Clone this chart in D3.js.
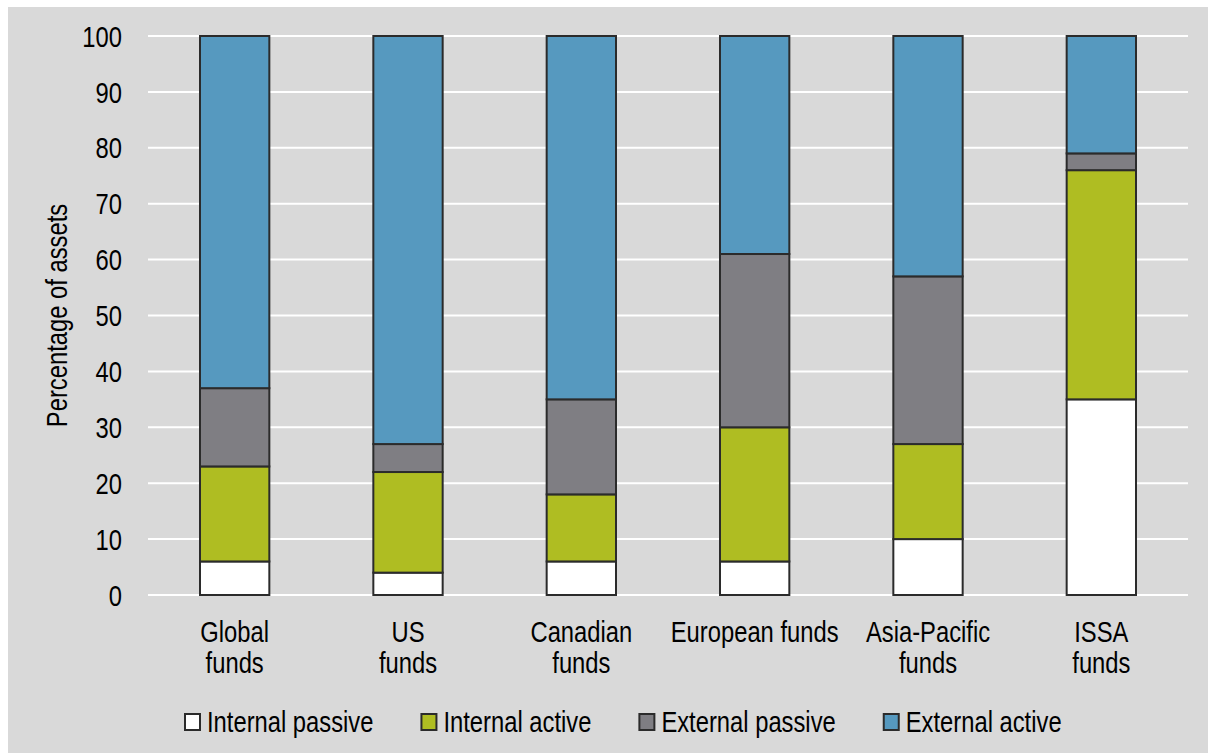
<!DOCTYPE html>
<html>
<head>
<meta charset="utf-8">
<script src="https://cdn.jsdelivr.net/npm/d3@7"></script>
<style>
  html, body { margin: 0; padding: 0; background: #ffffff; }
  svg { display: block; }
  text { font-family: "Liberation Sans", Arial, sans-serif; fill: #000; }
</style>
</head>
<body>
<svg id="chart" width="1208" height="753"></svg>
<script>
// ---- Data ----
const categories = [["Global", "funds"], ["US", "funds"], ["Canadian", "funds"], ["European funds"], ["Asia-Pacific", "funds"], ["ISSA", "funds"]];
const seriesNames = ["Internal passive", "Internal active", "External passive", "External active"];
const internalPassive = [6, 4, 6, 6, 10, 35];
const internalActive  = [17, 18, 12, 24, 17, 41];
const externalPassive = [14, 5, 17, 31, 30, 3];
const externalActive  = [63, 73, 65, 39, 43, 21];
const yTicks = [0, 10, 20, 30, 40, 50, 60, 70, 80, 90, 100];
const yTitle = "Percentage of assets";

// ---- Styles ----
const colors = ["#ffffff", "#afbd22", "#7f7e83", "#5699bf"];
const fontSize = 29;
const narrow = 0.82;

const svg = d3.select("#chart");
svg.append("rect").attr("x", 8).attr("y", 7).attr("width", 1200).attr("height", 746).attr("fill", "#d9d9d9");

const catKeys = categories.map(c => c.join(" "));
const x = d3.scaleBand().domain(catKeys).range([148, 1188]).paddingInner(0.6).paddingOuter(0.3);
const y = d3.scaleLinear().domain([0, 100]).range([595, 36]);

// gridlines
svg.append("g").selectAll("line").data(yTicks).join("line")
  .attr("x1", 148).attr("x2", 1188)
  .attr("y1", d => y(d)).attr("y2", d => y(d))
  .attr("stroke", "#ffffff").attr("stroke-width", 2);

// y axis labels
const yAxis = d3.axisLeft(y).tickValues(yTicks).tickSize(0).tickPadding(0);
const yg = svg.append("g").attr("transform", "translate(122,0)").call(yAxis);
yg.select(".domain").remove();
yg.selectAll("text").attr("font-size", fontSize).attr("font-family", null)
  .attr("fill", "#000").attr("dy", "0.35em").attr("x", 0)
  .attr("transform", `scale(${narrow},1)`);

// y title
svg.append("text")
  .attr("transform", `translate(67,${(36 + 595) / 2}) rotate(-90) scale(${narrow},1)`)
  .attr("text-anchor", "middle")
  .attr("font-size", fontSize)
  .text(yTitle);

// stacked bars
const rows = catKeys.map((k, i) => ({
  cat: k,
  "Internal passive": internalPassive[i],
  "Internal active": internalActive[i],
  "External passive": externalPassive[i],
  "External active": externalActive[i]
}));
const stack = d3.stack().keys(seriesNames)(rows);
svg.append("g").selectAll("g").data(stack).join("g")
  .attr("fill", (d, i) => colors[i])
  .selectAll("rect").data(d => d).join("rect")
  .attr("x", d => x(d.data.cat))
  .attr("width", x.bandwidth())
  .attr("y", d => y(d[1]))
  .attr("height", d => y(d[0]) - y(d[1]))
  .attr("stroke", "#2b2b2b").attr("stroke-width", 2);

// x labels
const xl = svg.append("g").selectAll("g").data(categories).join("g")
  .attr("transform", (d, i) => `translate(${x(catKeys[i]) + x.bandwidth() / 2},642) scale(${narrow},1)`)
  .append("text")
  .attr("text-anchor", "middle")
  .attr("font-size", fontSize);
xl.selectAll("tspan").data(d => d).join("tspan")
  .attr("x", 0)
  .attr("dy", (d, i) => i === 0 ? 0 : 31)
  .text(d => d);

// legend
const lg = svg.append("g");
let lx = 185;
seriesNames.forEach((name, i) => {
  lg.append("rect").attr("x", lx).attr("y", 714).attr("width", 15).attr("height", 16)
    .attr("fill", colors[i]).attr("stroke", "#2b2b2b").attr("stroke-width", 2);
  const t = lg.append("text")
    .attr("transform", `translate(${lx + 22},732) scale(${narrow},1)`)
    .attr("font-size", fontSize).text(name);
  lx += 22 + t.node().getComputedTextLength() * narrow + 48;
});
</script>
</body>
</html>
